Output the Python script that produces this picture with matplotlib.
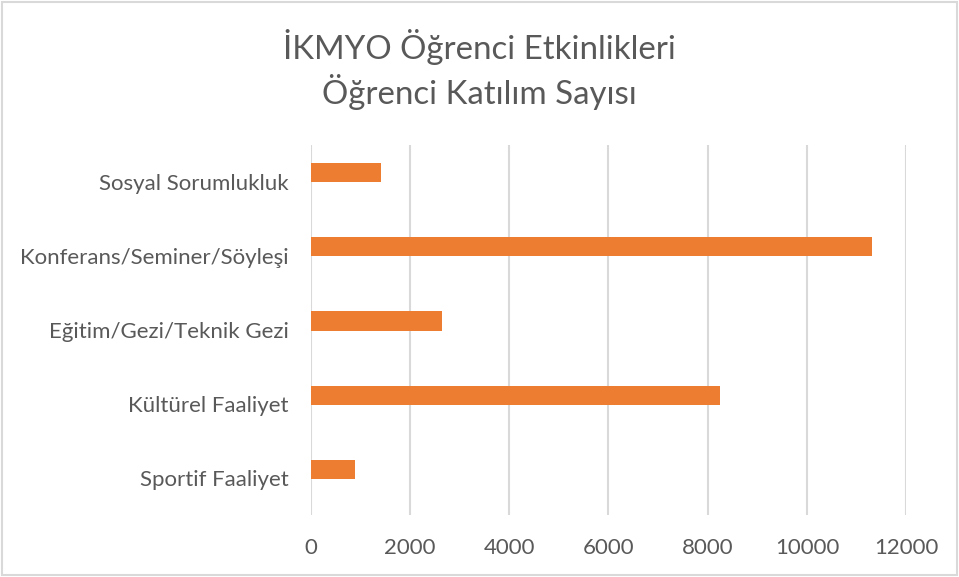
import matplotlib
matplotlib.use("Agg")
import matplotlib.pyplot as plt
from matplotlib.patches import Rectangle

categories = ["Sportif Faaliyet", "Kültürel Faaliyet", "Eğitim/Gezi/Teknik Gezi",
              "Konferans/Seminer/Söyleşi", "Sosyal Sorumlukluk"]
values = [900, 8250, 2650, 11300, 1410]
xticks = [0, 2000, 4000, 6000, 8000, 10000, 12000]
title_lines = ["İKMYO Öğrenci Etkinlikleri", "Öğrenci Katılım Sayısı"]

plt.rcParams['font.family'] = ['Lato', 'DejaVu Sans']
txt = "#595959"
grid = "#d9d9d9"

fig = plt.figure(figsize=(9.59, 5.77), dpi=100)
ax = fig.add_axes([0.3238, 0.1066, 0.945 - 0.3238, 0.7487 - 0.1066])

pos = [i + 0.125 for i in range(len(categories))]
ax.barh(pos, values, height=0.257, color="#ED7D31", zorder=3)
ax.set_ylim(-0.5, len(categories) - 0.5)
ax.set_xlim(0, 12000)
ax.set_xticks(xticks)
ax.set_xticklabels([str(t) for t in xticks])
ax.set_yticks(range(len(categories)))
ax.set_yticklabels(categories)
ax.grid(axis="x", color=grid, linewidth=1.5, zorder=0)
for s in ax.spines.values():
    s.set_visible(False)
ax.tick_params(axis="both", length=0, colors=txt, labelsize=16)
ax.tick_params(axis="x", pad=16.5)
ax.tick_params(axis="y", pad=15.5)

fig.text(0.5, 1 - 47 / 577, title_lines[0], ha="center", va="center",
         fontsize=23.8, color=txt)
fig.text(0.5, 1 - 92 / 577, title_lines[1], ha="center", va="center",
         fontsize=23.8, color=txt)

fig.patches.append(Rectangle((0.002, 0.003), 0.996, 0.994, transform=fig.transFigure,
                             fill=False, edgecolor=grid, linewidth=1.5))

fig.savefig("out.png", dpi=100)
